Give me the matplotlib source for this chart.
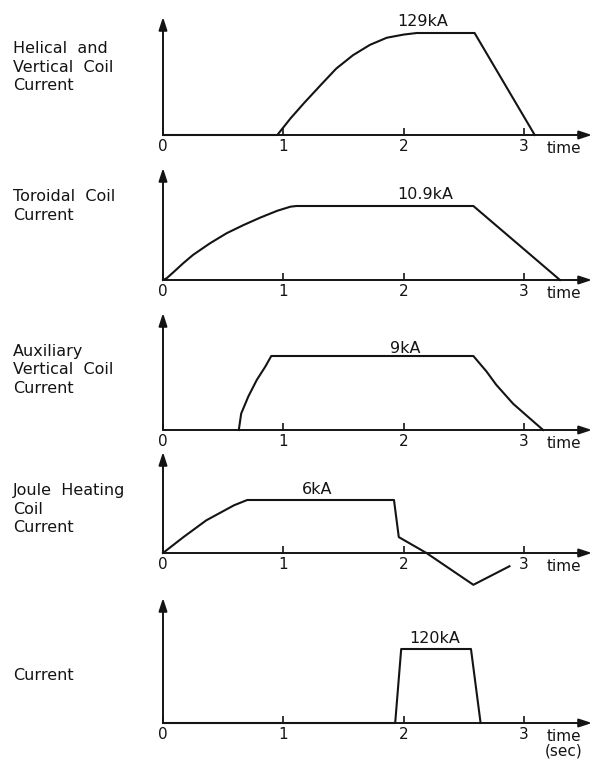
import matplotlib
matplotlib.use("Agg")
import matplotlib.pyplot as plt

# time in seconds, current in kA
helical_t = [0.0, 0.95, 1.06, 1.17, 1.31, 1.44, 1.58, 1.72, 1.86, 2.00, 2.11, 2.59, 3.09]
helical_i = [0, 0, 21, 40, 63, 84, 101, 114, 123, 127, 129, 129, 0]

toroidal_t = [0.0, 0.03, 0.09, 0.17, 0.25, 0.39, 0.53, 0.67, 0.81, 0.95, 1.06, 1.11, 2.58, 3.30]
toroidal_i = [0, 0.25, 1.2, 2.5, 3.7, 5.4, 6.9, 8.1, 9.2, 10.2, 10.8, 10.9, 10.9, 0]

aux_t = [0.63, 0.65, 0.71, 0.78, 0.85, 0.90, 2.58, 2.69, 2.77, 2.91, 3.05, 3.16]
aux_i = [0, 2.0, 4.1, 6.1, 7.7, 9.0, 9.0, 7.1, 5.5, 3.2, 1.4, 0]

joule_t = [0.0, 0.17, 0.36, 0.59, 0.70, 1.92, 1.96, 2.19, 2.58, 2.88]
joule_i = [0, 1.8, 3.7, 5.4, 6.0, 6.0, 1.8, 0, -3.6, -1.5]

pulse_t = [0.0, 1.93, 1.98, 2.56, 2.64]
pulse_i = [0, 0, 120, 120, 0]

names = ["Helical  and\nVertical  Coil\nCurrent",
         "Toroidal  Coil\nCurrent",
         "Auxiliary\nVertical  Coil\nCurrent",
         "Joule  Heating\nCoil\nCurrent",
         "Current"]
peaks = [129, 10.9, 9, 6, 120]
peak_labels = ["129kA", "10.9kA", "9kA", "6kA", "120kA"]
ticks = [0, 1, 2, 3]
series = [(helical_t, helical_i), (toroidal_t, toroidal_i), (aux_t, aux_i),
          (joule_t, joule_i), (pulse_t, pulse_i)]

# layout in pixels of the 598x763 picture
W, H = 598, 763
x0, x_tip, px_per_s = 163, 592, 120.3
base_px = [135, 280, 430, 553, 723]
peak_px = [33, 206, 356, 500, 649]
top_px = [17, 168, 313, 452, 598]
name_px = [67, 206, 370, 509, 676]
label_at = [2.16, 2.18, 2.01, 1.28, 2.26]
label_lift = [3, 3, 0, 2, 2]

ink = "#141414"
fig = plt.figure(figsize=(W / 100, H / 100), dpi=100)

for k, (t, cur) in enumerate(series):
    yb, yp, yt = base_px[k], peak_px[k], top_px[k]
    ax = fig.add_axes([x0 / W, 1 - yb / H, (x_tip - x0) / W, (yb - yt) / H])
    ax.set_xlim(0, (x_tip - x0) / px_per_s)
    ax.set_ylim(0, peaks[k] * (yb - yt) / (yb - yp))
    for s in ax.spines.values():
        s.set_visible(False)

    ax.plot(t, cur, color=ink, lw=1.5, clip_on=False, solid_joinstyle="round")

    # axes drawn as arrows
    arrow = dict(arrowstyle="-|>,head_length=0.55,head_width=0.18",
                 color=ink, lw=1.4, mutation_scale=14, shrinkA=0, shrinkB=0)
    ax.annotate("", xy=(1, 0), xytext=(0, 0), xycoords="axes fraction",
                arrowprops=arrow)
    ax.annotate("", xy=(0, 1), xytext=(0, 0), xycoords="axes fraction",
                arrowprops=arrow)

    ax.set_xticks(ticks)
    ax.set_xticklabels([str(v) for v in ticks])
    ax.set_yticks([])
    ax.tick_params(axis="x", direction="in", length=5, width=1.2,
                   color=ink, labelcolor=ink, labelsize=11, pad=3)

    ax.annotate(peak_labels[k], xy=(label_at[k], peaks[k]),
                xytext=(0, label_lift[k]), textcoords="offset points",
                ha="center", va="bottom", fontsize=11.5, color=ink)

    unit = "time\n(sec)" if k == len(series) - 1 else "time"
    ax.annotate(unit, xy=((564 - x0) / px_per_s, 0),
                xycoords=("data", "axes fraction"),
                xytext=(0, -4), textcoords="offset points",
                ha="center", va="top", fontsize=11, color=ink,
                linespacing=1.0)

    fig.text(13 / W, 1 - name_px[k] / H, names[k], ha="left", va="center",
             fontsize=11.5, color=ink, linespacing=1.32)

fig.savefig("out.png", dpi=100, facecolor="white")
